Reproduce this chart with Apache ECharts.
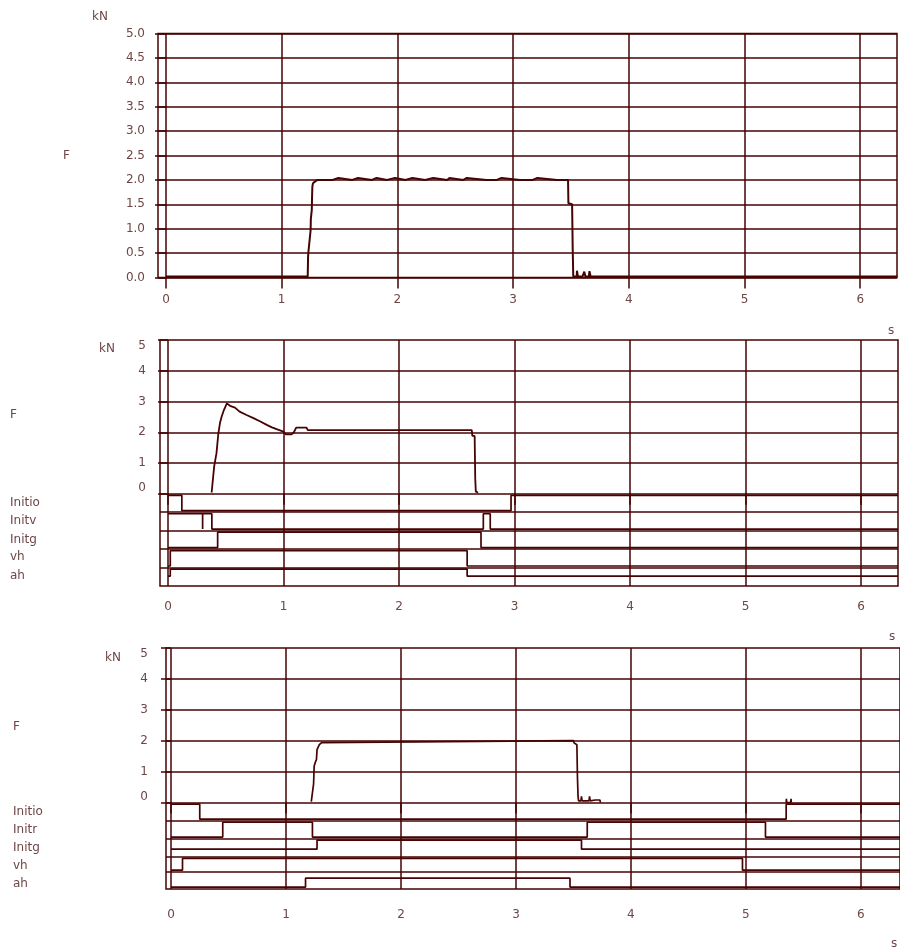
<!DOCTYPE html>
<html><head><meta charset="utf-8">
<script src="https://cdn.jsdelivr.net/npm/echarts@6/dist/echarts.min.js"></script>
<style>html,body{margin:0;padding:0;background:#fff}#c{width:900px;height:950px}</style>
</head><body><div id="c"></div>
<script>
// ---------- data ----------
const xTickValues = [0, 1, 2, 3, 4, 5, 6];
const yTickValues = [0, 1, 2, 3, 4, 5];
const rowNames2 = ['Initio', 'Initv', 'Initg', 'vh', 'ah'];
const rowNames3 = ['Initio', 'Initr', 'Initg', 'vh', 'ah'];

// Panel 1 force F [s, kN]
const force1 = [
  [0, 0.02], [1.225, 0.02], [1.228, 0.42], [1.23, 0.5], [1.235, 0.62], [1.24, 0.66],
  [1.25, 0.97], [1.252, 1.2], [1.26, 1.38], [1.262, 1.6], [1.265, 1.86], [1.27, 1.93],
  [1.29, 1.97], [1.30, 2.0],
  [1.31, 2.0], [1.31, 2.04], [1.32, 2.04], [1.32, 2.0],
  [1.345, 2.0], [1.345, 2.04], [1.355, 2.04], [1.355, 2.0],
  [1.44, 2.0], [1.44, 2.04], [1.49, 2.04], [1.49, 2.0],
  [1.61, 2.0], [1.61, 2.04], [1.66, 2.04], [1.66, 2.0],
  [1.78, 2.0], [1.78, 2.04], [1.82, 2.04], [1.82, 2.0],
  [1.91, 2.0], [1.91, 2.04], [1.98, 2.04], [1.98, 2.0],
  [2.07, 2.0], [2.07, 2.04], [2.13, 2.04], [2.13, 2.0],
  [2.24, 2.0], [2.24, 2.04], [2.31, 2.04], [2.31, 2.0],
  [2.43, 2.0], [2.43, 2.04], [2.45, 2.04], [2.45, 2.0],
  [2.57, 2.0], [2.57, 2.04], [2.60, 2.04], [2.60, 2.0],
  [2.77, 2.0], [2.77, 2.04], [2.78, 2.04], [2.78, 2.0],
  [2.86, 2.0], [2.86, 2.04], [2.90, 2.04], [2.90, 2.0],
  [3.06, 2.0], [3.06, 2.04], [3.07, 2.04], [3.07, 2.0],
  [3.17, 2.0], [3.17, 2.04], [3.21, 2.04], [3.21, 2.0],
  [3.38, 2.0], [3.38, 2.04], [3.39, 2.04], [3.39, 2.0],
  [3.475, 2.0], [3.478, 1.52], [3.51, 1.5], [3.515, 0.6], [3.52, 0.02],
  [3.55, 0.02], [3.552, 0.14], [3.56, 0.02], [3.60, 0.02], [3.615, 0.12], [3.625, 0.02],
  [3.655, 0.02], [3.66, 0.13], [3.67, 0.02], [6.32, 0.02]
];

// Panel 2 force F
const force2 = [
  [0.378, 0.04], [0.39, 0.1], [0.40, 0.89], [0.42, 1.32], [0.435, 1.92], [0.45, 2.30],
  [0.465, 2.51], [0.485, 2.73], [0.51, 2.94], [0.537, 2.86], [0.58, 2.80], [0.62, 2.67],
  [0.68, 2.56], [0.74, 2.46], [0.80, 2.35], [0.855, 2.24], [0.90, 2.16], [0.94, 2.10],
  [1.00, 2.02], [1.02, 1.93], [1.07, 1.93], [1.09, 2.00], [1.11, 2.15], [1.20, 2.15],
  [1.21, 2.07], [2.63, 2.07], [2.635, 1.88], [2.655, 1.88], [2.66, 0.5], [2.665, 0.07],
  [2.685, 0.04]
];

// Panel 3 force F
const force3 = [
  [1.22, 0.03], [1.235, 0.09], [1.24, 0.6], [1.245, 1.17], [1.255, 1.3], [1.265, 1.39],
  [1.27, 1.71], [1.29, 1.87], [1.31, 1.94], [1.325, 2.0], [3.50, 2.0], [3.505, 1.93],
  [3.53, 1.87], [3.535, 0.8], [3.54, 0.2], [3.545, 0.05], [3.565, 0.05], [3.57, 0.2],
  [3.575, 0.05], [3.635, 0.05], [3.64, 0.2], [3.645, 0.05], [3.69, 0.08], [3.73, 0.08],
  [3.735, 0.0], [3.74, '-'],
  [5.35, 0.0], [5.352, 0.12], [5.355, 0.0], [5.39, 0.0], [5.392, 0.12], [5.395, 0.0]
];

// Digital signals: switching times [s] and states (1 = upper level, 0 = lower level)
const initio2T = [0, 0.12, 2.97];           const initio2S = [1, 0, 1];
const initv2T  = [0, 0.30, 0.30, 0.38, 2.73, 2.79]; const initv2S = [1, 0, 1, 0, 1, 0];
const initg2T  = [0, 0.43, 2.71];           const initg2S  = [0, 1, 0];
const vh2T     = [0, 0.02, 2.59];           const vh2S     = [0, 1, 0];
const ah2T     = [0, 0.02, 2.59];           const ah2S     = [0, 1, 0];

const initio3T = [0, 0.25, 5.35];           const initio3S = [1, 0, 1];
const initr3T  = [0, 0.45, 1.23, 3.62, 5.17]; const initr3S = [0, 1, 0, 1, 0];
const initg3T  = [0, 1.27, 3.57];           const initg3S  = [0, 1, 0];
const vh3T     = [0, 0.10, 4.97];           const vh3S     = [0, 1, 0];
const ah3T     = [0, 1.17, 3.47];           const ah3S     = [0, 1, 0];

// ---------- layout / style ----------
const C = '#460303';
const TXT = '#6e4646';
const FONT = 'DejaVu Sans';
const GW = 1.5;

// row boundaries (y-axis units below 0) and signal levels per row [upper, lower]
const bounds2 = [0, -0.6, -1.2, -1.8, -2.4];
const levels2 = [[0, -0.6], [-0.6, -1.2], [-1.2, -1.8], [-1.8, -2.4], [-2.4, -2.73]];
const bounds3 = [0, -0.59, -1.17, -1.76, -2.24];
const levels3 = [[0, -0.59], [-0.59, -1.17], [-1.17, -1.56], [-1.76, -2.24], [-2.40, -2.79]];
const D = 0.05; // inward offset so a signal next to a grid line reads as a heavy line

function steps(T, S, tEnd, lv) {
  const pts = [];
  for (let i = 0; i < T.length; i++) {
    const y = S[i] ? lv[0] - D : lv[1] + D;
    pts.push([T[i], y]);
    pts.push([i + 1 < T.length ? T[i + 1] : tEnd, y]);
  }
  return pts;
}

const panels = [
  { grid: { left: 158, top: 33.5, width: 739, height: 244 }, xmin: -0.069, xmax: 6.318, ymin: 0, ymax: 5, xMargin: 16, yMargin: 13 },
  { grid: { left: 160, top: 340, width: 738, height: 246 }, xmin: -0.069, xmax: 6.32, ymin: -3, ymax: 5, xMargin: 15, yMargin: 14 },
  { grid: { left: 166, top: 648, width: 734, height: 241 }, xmin: -0.0435, xmax: 6.34, ymin: -2.8, ymax: 5, xMargin: 20, yMargin: 18 }
];

const grids = panels.map(p => Object.assign({ show: true, borderColor: C, borderWidth: GW, backgroundColor: '#fff' }, p.grid));

const xAxes = panels.map((p, i) => ({
  type: 'value', gridIndex: i, min: p.xmin, max: p.xmax,
  axisLine: { show: false },
  axisTick: { show: true, length: 11, customValues: xTickValues, lineStyle: { color: C, width: GW } },
  axisLabel: { customValues: xTickValues, margin: p.xMargin, color: TXT, fontFamily: FONT, fontSize: 12 },
  splitLine: { show: true, lineStyle: { color: C, width: GW } }
}));

const yAxes = panels.map((p, i) => {
  if (i === 0) {
    return {
      type: 'value', gridIndex: 0, min: 0, max: 5, interval: 0.5,
      axisLine: { show: false },
      axisTick: { show: true, length: 11, lineStyle: { color: C, width: GW } },
      axisLabel: { margin: p.yMargin, color: TXT, fontFamily: FONT, fontSize: 12, formatter: v => v.toFixed(1) },
      splitLine: { show: true, lineStyle: { color: C, width: GW } }
    };
  }
  return {
    type: 'value', gridIndex: i, min: p.ymin, max: p.ymax,
    axisLine: { show: false },
    axisTick: { show: true, length: 10, customValues: yTickValues, lineStyle: { color: C, width: GW } },
    axisLabel: { customValues: yTickValues, margin: p.yMargin, color: TXT, fontFamily: FONT, fontSize: 12,
      verticalAlignMaxLabel: 'top', verticalAlignMinLabel: 'bottom' },
    splitLine: { show: false }
  };
});

function hLines(bounds) {
  return {
    silent: true, symbol: ['none', 'none'], label: { show: false }, animation: false,
    lineStyle: { color: C, width: GW, type: 'solid' },
    emphasis: { disabled: true },
    data: [1, 2, 3, 4].concat(bounds).map(v => ({ yAxis: v }))
  };
}

const series = [];
function addLine(i, data, w, extra) {
  series.push(Object.assign({
    type: 'line', xAxisIndex: i, yAxisIndex: i, data: data, showSymbol: false, symbol: 'none',
    lineStyle: { color: C, width: w }, silent: true, animation: false, z: 3
  }, extra || {}));
}
addLine(0, force1, 2);
addLine(1, force2, 1.8, { markLine: hLines(bounds2) });
addLine(2, force3, 1.7, { markLine: hLines(bounds3) });

const sig2 = [[initio2T, initio2S], [initv2T, initv2S], [initg2T, initg2S], [vh2T, vh2S], [ah2T, ah2S]];
sig2.forEach((s, r) => addLine(1, steps(s[0], s[1], panels[1].xmax, levels2[r]), 1.7));
const sig3 = [[initio3T, initio3S], [initr3T, initr3S], [initg3T, initg3S], [vh3T, vh3S], [ah3T, ah3S]];
sig3.forEach((s, r) => addLine(2, steps(s[0], s[1], panels[2].xmax, levels3[r]), 1.7));

function txt(t, x, y) {
  return { type: 'text', x: x, y: y, silent: true,
    style: { text: t, fill: TXT, font: '12px "' + FONT + '"', verticalAlign: 'middle', align: 'left' } };
}
const graphics = [
  txt('kN', 92, 17), txt('F', 63, 156),
  txt('kN', 99, 349), txt('F', 10, 415),
  txt('kN', 105, 658), txt('F', 13, 727),
  txt('s', 888, 331), txt('s', 889, 637), txt('s', 891, 944)
];
const rowY2 = [503, 521, 540, 557, 576];
rowNames2.forEach((n, k) => graphics.push(txt(n, 10, rowY2[k])));
const rowY3 = [812, 830, 848, 866, 884];
rowNames3.forEach((n, k) => graphics.push(txt(n, 13, rowY3[k])));

const chart = echarts.init(document.getElementById('c'), null, { renderer: 'canvas' });
chart.setOption({
  backgroundColor: '#fff',
  animation: false,
  grid: grids,
  xAxis: xAxes,
  yAxis: yAxes,
  series: series,
  graphic: graphics
});
</script>
</body></html>
